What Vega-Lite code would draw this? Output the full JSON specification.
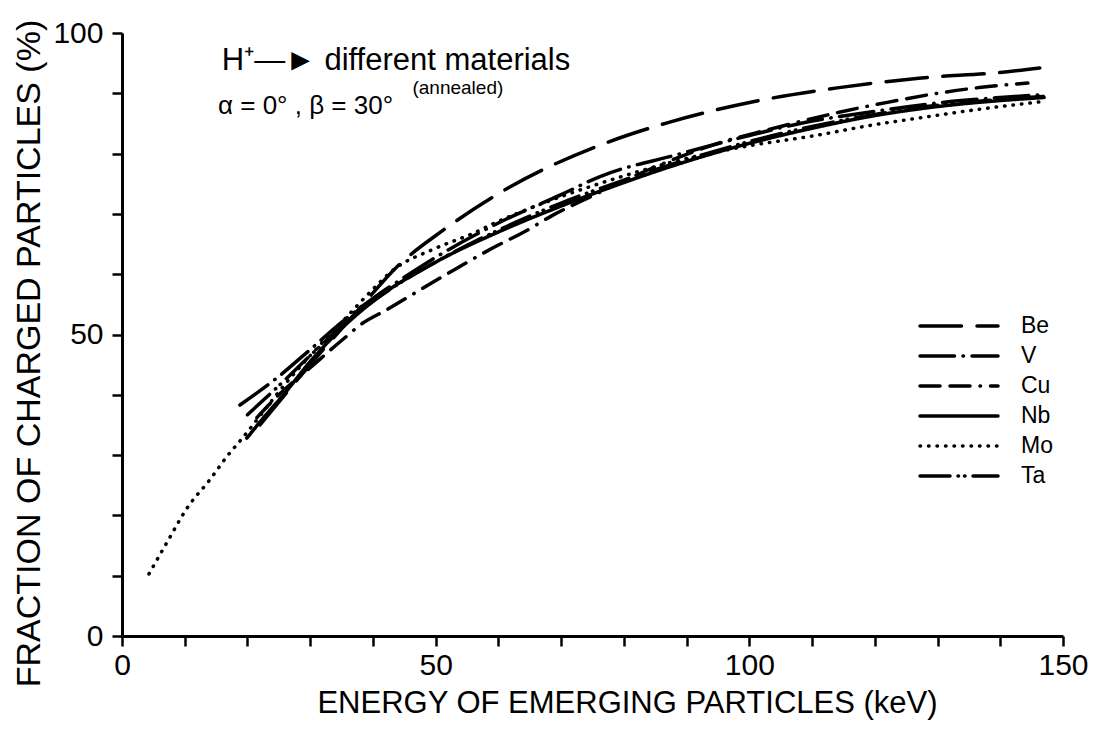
{
  "$schema": "https://vega.github.io/schema/vega-lite/v6.json",
  "width": 941,
  "height": 603,
  "autosize": "none",
  "padding": {"left": 122, "top": 33, "right": 43, "bottom": 95},
  "config": {"view": {"stroke": null}, "font": "Liberation Sans", "text": {"color": "black"}},
  "layer": [
    {
      "data": {"values": [
        {"series":"Mo","x":4.3,"y":10.3},{"series":"Mo","x":7.1,"y":15.4},{"series":"Mo","x":10.5,"y":21.4},{"series":"Mo","x":14,"y":25.9},{"series":"Mo","x":16.9,"y":30},{"series":"Mo","x":19.1,"y":32.7},{"series":"Mo","x":22,"y":36.5},{"series":"Mo","x":25,"y":40.5},{"series":"Mo","x":30,"y":46.5},{"series":"Mo","x":35,"y":52},{"series":"Mo","x":40,"y":57.5},{"series":"Mo","x":43,"y":60.5},{"series":"Mo","x":50,"y":64.3},{"series":"Mo","x":56,"y":66.8},{"series":"Mo","x":59,"y":68.3},{"series":"Mo","x":68,"y":72.1},{"series":"Mo","x":80,"y":76.3},{"series":"Mo","x":90,"y":79.2},{"series":"Mo","x":100,"y":81.3},{"series":"Mo","x":110,"y":82.9},{"series":"Mo","x":120,"y":84.8},{"series":"Mo","x":127,"y":85.9},{"series":"Mo","x":137,"y":87.4},{"series":"Mo","x":146.5,"y":88.6},
        {"series":"Be","x":22,"y":35},{"series":"Be","x":30,"y":45},{"series":"Be","x":38,"y":54.5},{"series":"Be","x":43.8,"y":61.2},{"series":"Be","x":51.2,"y":67.3},{"series":"Be","x":61.9,"y":74.5},{"series":"Be","x":76.2,"y":81.4},{"series":"Be","x":86.9,"y":85.1},{"series":"Be","x":100.6,"y":88.6},{"series":"Be","x":114,"y":90.9},{"series":"Be","x":127,"y":92.5},{"series":"Be","x":140.4,"y":93.5},{"series":"Be","x":146.3,"y":94.2},
        {"series":"V","x":18.8,"y":38.3},{"series":"V","x":24.7,"y":42.8},{"series":"V","x":30,"y":47.5},{"series":"V","x":35,"y":52},{"series":"V","x":40,"y":56},{"series":"V","x":45,"y":59.5},{"series":"V","x":50,"y":62.8},{"series":"V","x":60,"y":68.5},{"series":"V","x":70,"y":73.2},{"series":"V","x":76.2,"y":76.2},{"series":"V","x":88.4,"y":79.8},{"series":"V","x":100,"y":83},{"series":"V","x":108.1,"y":85},{"series":"V","x":120,"y":87},{"series":"V","x":130,"y":88.4},{"series":"V","x":140,"y":89.3},{"series":"V","x":147,"y":89.8},
        {"series":"Cu","x":21.5,"y":36.2},{"series":"Cu","x":25,"y":40},{"series":"Cu","x":30,"y":44.5},{"series":"Cu","x":35,"y":49},{"series":"Cu","x":38.4,"y":51.9},{"series":"Cu","x":42.2,"y":54.1},{"series":"Cu","x":47.5,"y":57.4},{"series":"Cu","x":53.4,"y":61},{"series":"Cu","x":59,"y":64.3},{"series":"Cu","x":64.6,"y":67.3},{"series":"Cu","x":68.7,"y":69.8},{"series":"Cu","x":75,"y":73},{"series":"Cu","x":85,"y":77.8},{"series":"Cu","x":95,"y":81.7},{"series":"Cu","x":105,"y":84.5},{"series":"Cu","x":114.5,"y":86.9},{"series":"Cu","x":122,"y":88.5},{"series":"Cu","x":130,"y":90},{"series":"Cu","x":137,"y":91},{"series":"Cu","x":144.4,"y":91.7},
        {"series":"Nb","x":19.9,"y":32.8},{"series":"Nb","x":22,"y":35.5},{"series":"Nb","x":25.9,"y":40.2},{"series":"Nb","x":30,"y":45.5},{"series":"Nb","x":35,"y":51},{"series":"Nb","x":40,"y":55.5},{"series":"Nb","x":50,"y":62},{"series":"Nb","x":60,"y":67},{"series":"Nb","x":70,"y":71.3},{"series":"Nb","x":80,"y":75.2},{"series":"Nb","x":90,"y":78.7},{"series":"Nb","x":100,"y":81.7},{"series":"Nb","x":110,"y":84.2},{"series":"Nb","x":120,"y":86.3},{"series":"Nb","x":130,"y":87.8},{"series":"Nb","x":140,"y":88.8},{"series":"Nb","x":147,"y":89.3},
        {"series":"Ta","x":20,"y":36.7},{"series":"Ta","x":25,"y":41.5},{"series":"Ta","x":30,"y":46.5},{"series":"Ta","x":35,"y":51.3},{"series":"Ta","x":40,"y":55.5},{"series":"Ta","x":50,"y":62},{"series":"Ta","x":60,"y":67.3},{"series":"Ta","x":70,"y":71.8},{"series":"Ta","x":80,"y":75.6},{"series":"Ta","x":90,"y":79},{"series":"Ta","x":100,"y":82},{"series":"Ta","x":110,"y":84.5},{"series":"Ta","x":120,"y":86.5},{"series":"Ta","x":130,"y":88},{"series":"Ta","x":140,"y":89},{"series":"Ta","x":147,"y":89.5}
      ]},
      "mark": {"type": "line", "stroke": "black", "strokeCap": "round", "interpolate": "monotone"},
      "encoding": {
        "x": {"field": "x", "type": "quantitative", "scale": {"domain": [0, 150], "nice": false},
          "axis": {"values": [0,10,20,30,40,50,60,70,80,90,100,110,120,130,140,150], "labelExpr": "datum.value % 50 === 0 ? datum.label : ''",
            "grid": false, "domainColor": "black", "domainWidth": 3, "tickColor": "black", "tickWidth": 2.5, "tickSize": 10,
            "labelFontSize": 30, "labelColor": "black", "labelPadding": 4, "labelFlush": false,
            "title": "ENERGY OF EMERGING PARTICLES (keV)", "titleFontSize": 31, "titleFontWeight": "normal", "titleColor": "black", "titleX": 505, "titleY": 52, "titleBaseline": "top"}},
        "y": {"field": "y", "type": "quantitative", "scale": {"domain": [0, 100], "nice": false},
          "axis": {"values": [0,10,20,30,40,50,60,70,80,90,100], "labelExpr": "datum.value % 50 === 0 ? datum.label : ''",
            "grid": false, "domainColor": "black", "domainWidth": 3, "tickColor": "black", "tickWidth": 2.5, "tickSize": 10,
            "labelFontSize": 30, "labelColor": "black", "labelPadding": 9, "labelFlush": false,
            "title": "FRACTION  OF  CHARGED  PARTICLES  (%)", "titleFontSize": 34, "titleFontWeight": "normal", "titleColor": "black", "titlePadding": 6, "titleY": 320}},
        "strokeDash": {"field": "series", "type": "nominal",
          "scale": {"domain": ["Be", "V", "Cu", "Nb", "Mo", "Ta"], "range": [[41.5, 15.5], [34.5, 8.5, 0.5, 8.5], [20, 10, 20, 10, 0.5, 10], [1, 0], [0.5, 8], [30, 8, 0.5, 6, 0.5, 8]]},
          "legend": {"orient": "none", "legendX": 825, "legendY": 281, "title": null, "symbolType": "M-3.9,0H3.9", "symbolSize": 400,
            "symbolStrokeWidth": 3.5, "symbolStrokeColor": "black", "symbolFillColor": "transparent",
            "labelFontSize": 23, "labelColor": "black", "labelOffset": 50, "rowPadding": 6, "padding": 0,
            "encode": {"symbols": {"update": {"strokeCap": {"value": "round"}}}}}},
        "strokeWidth": {"field": "series", "type": "nominal",
          "scale": {"domain": ["Be", "V", "Cu", "Nb", "Mo", "Ta"], "range": [3.5, 3.5, 3.5, 3.5, 5, 3.5]}, "legend": null}
      }
    },
    {
      "data": {"values": [{}]},
      "mark": {"type": "text", "align": "left", "baseline": "alphabetic", "fontSize": 31},
      "encoding": {"x": {"datum": 15.9}, "y": {"datum": 93.9}, "text": {"value": "H⁺—► different materials"}}
    },
    {
      "data": {"values": [{}]},
      "mark": {"type": "text", "align": "left", "baseline": "alphabetic", "fontSize": 19},
      "encoding": {"x": {"datum": 46.3}, "y": {"datum": 89.9}, "text": {"value": "(annealed)"}}
    },
    {
      "data": {"values": [{}]},
      "mark": {"type": "text", "align": "left", "baseline": "alphabetic", "fontSize": 26},
      "encoding": {"x": {"datum": 15.3}, "y": {"datum": 86.5}, "text": {"value": "α = 0°  ,  β = 30°"}}
    }
  ]
}
